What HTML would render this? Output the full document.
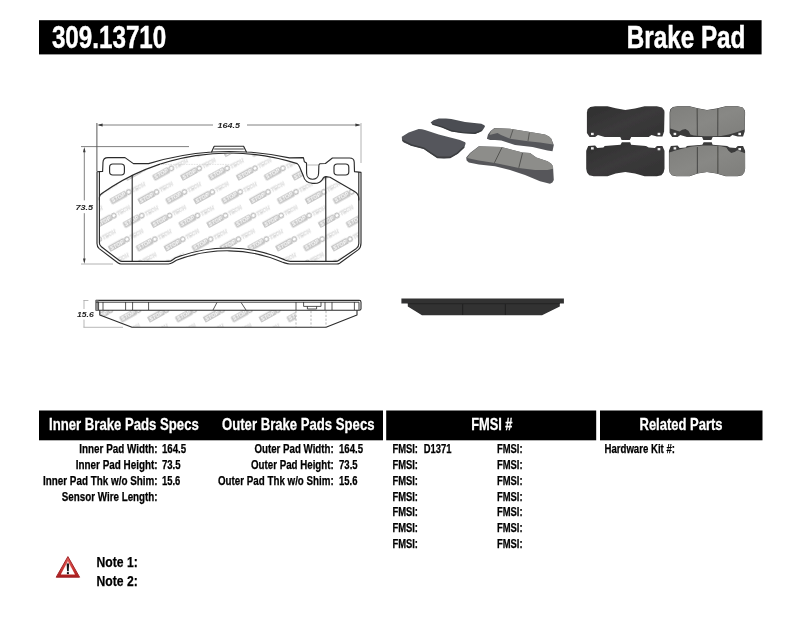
<!DOCTYPE html>
<html lang="en">
<head>
<meta charset="utf-8">
<title>309.13710 Brake Pad</title>
<style>
html,body{margin:0;padding:0;background:#fff;}
body{width:800px;height:619px;overflow:hidden;}
svg{display:block;font-family:"Liberation Sans",sans-serif;will-change:transform;}
</style>
</head>
<body>
<svg width="800" height="619" viewBox="0 0 800 619">
<rect width="800" height="619" fill="#fff"/>
<defs>
<pattern id="wm" width="48.8" height="27" patternUnits="userSpaceOnUse" patternTransform="translate(192.6 198.4) rotate(-29)">
<g id="lg" font-size="5.7" font-weight="bold" font-style="italic">
<rect x="0" y="0.7" width="17.6" height="6.3" rx="0.8" fill="#c6c6c6"/>
<text x="1.3" y="5.9" fill="#fff" textLength="15" lengthAdjust="spacingAndGlyphs">STOP</text>
<circle cx="20.4" cy="3.9" r="2.3" fill="none" stroke="#bdbdbd" stroke-width="1.2"/>
<text x="23.8" y="6" font-size="6.2" fill="#f3f3f3" stroke="#d2d2d2" stroke-width="0.4" textLength="14.6" lengthAdjust="spacingAndGlyphs">TECH</text>
</g>
<use href="#lg" x="24.4" y="13.5"/>
<use href="#lg" x="-24.4" y="13.5"/>
<use href="#lg" x="24.4" y="-13.5"/>
</pattern>
<path id="innerp" d="M99.4 243 L99.4 197.6 Q99.4 195.2 101.4 193.8 A222 222 0 0 1 297.2 163.6 Q298.6 164.6 299.6 167 L303.4 176 C305.4 185.2 319.6 185.6 323 178.4 Q324 176.6 326 176.6 L330 177.2 L354.6 191.4 Q358.8 194 358.8 198.4 L358.8 243.4 Q358.8 246.6 356.4 248.4 L338.6 260.5 Q337.6 261.3 336 261.3 L290.4 261.3 Q288 261.3 285.4 260.2 L283.6 259.4 A142.5 142.5 0 0 0 175.6 257.8 L172.4 260 Q170.6 261.4 168.4 261.4 L122 261.4 Q120.4 261.4 119 260.3 L101.4 246.8 Q99.4 245.2 99.4 243 Z"/>
<clipPath id="padclip"><use href="#innerp"/></clipPath>
<path id="outerp" d="M97 171.8 L102.6 171.4 L103 162.2 Q103.2 157.6 108 157.6 L125 157.6 L133.4 163.6 L148.6 163.6 A280 280 0 0 1 211.6 152 L214.2 146.2 L243.6 146.2 L246.4 152 A280 280 0 0 1 289.5 157.9 L303.4 157.6 L304.4 161.8 L306.5 163 L306.6 173.2 C306.6 181.2 318.6 181.2 318.6 173.2 L318.9 164.8 L320 163.7 L325.4 163.5 L332.4 158 L349.6 158 Q354 158 354.2 162 L354.5 171.6 L361 172.4 L361 243 Q361 247.6 358.4 249.6 L339.6 263.2 Q338.4 264 336.6 264 L289.6 264 Q287.4 264 284.6 262.9 L282 262 A140 140 0 0 0 176.4 260.3 L172.8 262.6 Q170.6 264 168.4 264 L121 264 Q119.4 264 117.8 262.8 L99.2 248.6 Q97 246.8 97 243.6 Z"/>
</defs>
<g clip-path="url(#padclip)"><rect x="95" y="140" width="270" height="130" fill="url(#wm)"/></g>
<g fill="none" stroke="#2b2b2b" stroke-width="1.15" stroke-linejoin="round" stroke-linecap="round">
<use href="#outerp"/>
<!-- friction material -->
<use href="#innerp"/>
<path d="M132.2 175.2 L132.2 261.4"/>
<path d="M325.7 176.8 L325.9 261.3"/>
<path d="M99.4 171.8 L99.4 200 M358.8 172.2 L358.8 200"/>
<path d="M214.6 149 L243.4 149" stroke-width="0.9"/>
<path d="M211.6 152 A280 280 0 0 1 246.4 152"/>
<!-- ear holes -->
<rect x="109.6" y="164" width="14.8" height="11" rx="3.2"/>
<rect x="334" y="164" width="14.8" height="11" rx="3.2"/>
</g>
<path d="M306.8 165 L318.6 165" stroke="#9a9a9a" stroke-width="0.7" fill="none"/>
<path d="M160 164.4 H230" stroke="#cfcfcf" stroke-width="0.6" stroke-dasharray="1.6 1" fill="none"/>
<!-- side view -->
<defs><clipPath id="sideclip"><path d="M99.6 310 L99.6 315 L132 327 L296 327 L296 310 Z"/></clipPath></defs>
<g clip-path="url(#sideclip)"><rect x="95" y="305" width="270" height="25" fill="url(#wm)"/></g>
<g fill="none" stroke="#2b2b2b" stroke-width="1.1" stroke-linejoin="round">
<path d="M96 300.4 L359.3 300.4 Q361 300.4 361 302.2 L361 308.7 Q361 310.3 359.3 310.3 L96 310.3 Z"/>
<rect x="96" y="300.4" width="2.6" height="9.9" fill="#8a8a8a" stroke="none"/>
<path d="M96 302.2 L359 302.2 L359 309.9" stroke-width="0.9"/>
<path d="M99.8 310.3 L99.8 315 L132 327.3 L326 327.3 L357 315 L357 310.3"/>
<path d="M98.6 302 V310 M103 302 V310 M125.6 302 V310 M132.6 302 V310 M148.6 302 V310 M296 302 V310 M325 302 V310 M332 302 V310 M354.4 302 V310" stroke-width="0.8"/>
<path d="M213 310 L217 302.4 M246 310 L241 302.4" stroke-width="0.8"/>
<path d="M303.6 302 V306.4 H321 V302 M307.4 306.4 V309 H316.6 V306.4" stroke-width="0.8"/>
<path d="M296 311 V327 M311 311 V327 M326 311 V327" stroke-width="0.7" stroke-dasharray="2.2 1.6" stroke="#999"/>
</g>
<!-- dimensions -->
<g stroke="#555" stroke-width="0.75" fill="none">
<path d="M96.9 123 V171" stroke="#444" stroke-width="0.9"/>
<path d="M361 123 V163" stroke="#999"/>
<path d="M99 125 H213 M247 125 H359.4"/>
<path d="M81 146.6 H189"/>
<path d="M81 264 H113" stroke="#999"/>
<path d="M84.3 149 V200.4 M84.3 213.2 V261.6"/>
<path d="M83.4 300.5 H88.4 M84 300.5 V309 M84 319.6 V327.3" stroke="#9a9a9a" stroke-width="0.7"/>
<path d="M83.4 327.3 H123" stroke="#9a9a9a" stroke-width="0.7"/>
</g>
<g fill="#3a3a3a" stroke="none">
<path d="M97.2 125 L102.6 123.6 L102.6 126.4 Z"/>
<path d="M360.8 125 L355.4 123.6 L355.4 126.4 Z"/>
<path d="M84.3 147 L83 152.2 L85.6 152.2 Z"/>
<path d="M84.3 263.8 L83 258.6 L85.6 258.6 Z"/>
</g>
<g font-size="8" font-weight="bold" font-style="italic" fill="#262626">
<text x="217.6" y="127.5" textLength="22.4" lengthAdjust="spacingAndGlyphs">164.5</text>
<text x="75.4" y="209.9" textLength="17.8" lengthAdjust="spacingAndGlyphs">73.5</text>
<text x="77" y="317.4" textLength="16.8" lengthAdjust="spacingAndGlyphs">15.6</text>
</g>

<defs>
<filter id="b1" x="-5%" y="-5%" width="110%" height="110%"><feGaussianBlur stdDeviation="0.45"/></filter>
<filter id="b2" x="-5%" y="-10%" width="110%" height="120%"><feGaussianBlur stdDeviation="0.6"/></filter>
<linearGradient id="gd" x1="0" y1="0" x2="1" y2="1"><stop offset="0" stop-color="#2f2f2f"/><stop offset="0.5" stop-color="#3b3a3b"/><stop offset="1" stop-color="#323232"/></linearGradient>
<linearGradient id="gg" x1="0" y1="0" x2="1" y2="1"><stop offset="0" stop-color="#7f7f7c"/><stop offset="0.5" stop-color="#888885"/><stop offset="1" stop-color="#7e7e7b"/></linearGradient>
</defs>
<g filter="url(#b1)">
<polygon points="586.9,112.4 587.6,109.2 590.3,107.0 595.1,106.2 607.5,106.2 615.7,108.2 625.3,110.0 635.0,108.6 644.6,106.2 656.9,106.2 662.0,107.4 664.3,110.4 664.5,112.4 664.1,131.6 662.4,136.4 656.9,136.6 651.4,135.0 648.7,137.1 631.2,137.1 629.8,139.9 621.6,139.9 620.3,137.1 604.7,137.1 597.9,135.0 595.1,137.1 589.6,137.1 586.9,133.0" fill="url(#gd)"/>
<polygon points="586.2,150.8 588.2,146.0 595.1,145.6 597.2,148.1 603.4,147.4 604.7,146.0 620.5,144.7 621.9,142.3 630.2,142.3 631.1,144.7 646.0,146.0 648.7,147.4 654.9,148.1 656.9,146.0 662.4,146.0 664.5,150.8 664.5,168.7 663.6,172.4 661.4,175.2 656.9,176.3 644.6,176.3 635.0,173.5 625.3,172.1 615.7,173.5 607.5,176.3 593.7,176.3 589.2,175.2 587.0,172.4 586.2,168.7" fill="url(#gd)"/>
<rect x="591" y="132.8" width="2.7" height="2.3" fill="#efefef"/>
<rect x="657.6" y="132.8" width="2.7" height="2.3" fill="#efefef"/>
<rect x="591" y="147.2" width="2.7" height="2.3" fill="#efefef"/>
<rect x="657.6" y="148.0" width="2.7" height="2.3" fill="#efefef"/>
<g transform="translate(669.6 0) scale(0.973 1) translate(-669.1 0)">
<polygon points="669.1,112.4 669.8,109.2 672.5,107.0 677.3,106.2 689.7,106.2 697.9,108.2 707.5,110.0 717.2,108.6 726.8,106.2 739.1,106.2 744.2,107.4 746.5,110.4 746.7,112.4 746.3,131.6 744.6,136.4 739.1,136.6 733.6,135.0 730.9,137.1 713.4,137.1 712.0,139.9 703.8,139.9 702.5,137.1 686.9,137.1 680.1,135.0 677.3,137.1 671.8,137.1 669.1,133.0" fill="#3a3a3a"/>
<polygon points="668.4,150.8 670.4,146.0 677.3,145.6 679.4,148.1 685.6,147.4 686.9,146.0 702.7,144.7 704.1,142.3 712.4,142.3 713.3,144.7 728.2,146.0 730.9,147.4 737.1,148.1 739.1,146.0 744.6,146.0 746.7,150.8 746.7,168.7 745.8,172.4 743.6,175.2 739.1,176.3 726.8,176.3 717.2,173.5 707.5,172.1 697.9,173.5 689.7,176.3 675.9,176.3 671.4,175.2 669.2,172.4 668.4,168.7" fill="#3a3a3a"/>
<polygon points="669.6,112.4 670.4,109.2 673.0,107.2 677.5,106.5 689.5,106.5 697.9,108.5 707.5,110.3 717.2,108.9 726.8,106.5 739.0,106.5 744.0,107.6 746.2,110.4 746.4,112.4 746.2,129.5 738.0,132.2 730.0,134.6 722.0,135.9 712.0,136.2 705.0,136.2 694.0,135.6 690.5,134.4 688.6,131.0 685.5,128.9 682.0,129.8 679.4,131.6 676.0,130.4 669.8,128.6" fill="url(#gg)"/>
<polygon points="668.8,152.6 675.0,150.6 684.0,148.2 692.0,146.6 703.0,145.6 712.0,145.6 722.0,146.2 727.5,147.6 729.4,150.6 732.4,152.9 736.0,152.0 738.6,150.2 742.0,151.4 746.6,153.2 746.7,168.7 745.8,172.4 743.6,175.0 739.1,176.0 726.8,176.0 717.2,173.3 707.5,171.9 697.9,173.3 689.7,176.0 675.9,176.0 671.4,175.0 669.2,172.4 668.6,168.7" fill="url(#gg)"/>
<path d="M697.4 108.6 L697.6 135.8 M718.7 108.8 L718.6 135.9 M697.6 147 L697.6 173.2 M718.7 146.2 L718.7 173.4" stroke="#3e3e3c" stroke-width="0.9" fill="none"/>
<rect x="673.2" y="132.8" width="2.7" height="2.3" fill="#efefef"/>
<rect x="739.8000000000001" y="132.8" width="2.7" height="2.3" fill="#efefef"/>
<rect x="673.2" y="147.2" width="2.7" height="2.3" fill="#efefef"/>
<rect x="739.8000000000001" y="148.0" width="2.7" height="2.3" fill="#efefef"/>
</g>
</g>
<g filter="url(#b2)">
<polygon points="430.6,122.6 433.5,120.2 438.8,118.4 446.0,118.5 451.3,119.0 465.0,121.9 481.3,123.8 484.4,125.2 485.0,126.6 482.5,130.6 479.0,132.6 475.0,133.8 462.5,133.1 451.3,131.2 442.5,127.5 437.0,125.6 432.5,124.5" fill="#4b4e52"/>
<path d="M432.4 124.2 L442.5 127.2 L451.3 130.8 L462.5 132.6 L475 133.2 L481.8 130.4" stroke="#393b3e" stroke-width="1.4" fill="none"/>
<polygon points="401.8,136.8 408.7,132.5 418.7,129.0 422.0,129.2 425.0,130.0 438.7,134.4 460.0,140.0 465.2,142.2 465.6,143.6 464.4,147.5 457.5,153.8 450.0,158.0 444.0,158.6 437.5,158.0 431.0,153.8 423.7,148.8 411.2,145.6 403.7,142.5 402.0,140.0" fill="#54575b"/>
<path d="M402.4 140.4 L411.2 145 L423.7 148.2 L431 153.2 L437.5 157.4 L450 157.4 L457.5 153.2 L464 147" stroke="#3c3e41" stroke-width="1.6" fill="none"/>
<polygon points="486.9,138.8 488.0,134.4 490.6,131.0 494.4,128.0 510.0,128.8 530.0,131.9 545.0,134.4 549.0,136.6 551.3,138.8 553.8,145.0 552.5,151.2 547.5,150.6 540.0,148.8 532.5,146.9 515.0,145.0 501.3,140.6 495.0,140.0 490.0,140.0" fill="#55565a"/>
<polygon points="489.4,135.0 491.0,131.2 494.6,128.2 510.0,128.8 530.0,131.9 545.0,134.4 549.0,136.6 551.3,138.8 553.0,144.4 540.0,142.5 528.0,141.2 510.0,138.8 501.0,135.0 497.5,133.0" fill="#8e8e8b"/>
<path d="M513 129.6 L510 138.6 M529.4 132.6 L528 141" stroke="#525250" stroke-width="0.9" fill="none"/>
<polygon points="466.2,157.5 470.0,153.0 478.8,146.2 501.3,146.9 522.5,152.5 530.0,153.0 536.3,157.5 547.5,161.2 551.0,163.6 553.0,166.2 553.8,180.0 552.4,182.4 550.0,183.8 540.0,181.2 525.0,175.0 510.0,170.0 495.0,166.2 478.8,164.4 468.8,162.5 466.6,160.4" fill="#56575a"/>
<polygon points="467.0,158.0 470.4,153.2 479.0,146.6 501.3,146.9 522.5,152.5 530.0,153.0 536.3,157.5 547.5,161.2 551.0,163.6 553.0,166.2 553.0,168.8 547.5,170.0 535.0,170.0 518.8,168.0 495.0,163.0 478.8,160.6" fill="#8d8d8a"/>
<path d="M501.9 147.6 L494.4 162.8 M522.5 153 L518.8 167.8" stroke="#4c4c4a" stroke-width="0.9" fill="none"/>
</g>
<g filter="url(#b1)">
<path d="M401.4 298.4 L563.9 298.4 L563.9 303.4 L559.8 303.6 L559.8 306.4 L542 315.3 L422 315.3 L407.8 306.4 L407.8 303.6 L401.4 303.4 Z" fill="#303031"/>
<path d="M407.8 303.6 L559.8 303.6" stroke="#222" stroke-width="0.7"/>
<path d="M462.6 304 V315 M505.4 304 V315" stroke="#1c1c1c" stroke-width="0.7"/>
</g>
<rect x="39" y="20.2" width="722.6" height="34.2" fill="#000"/>
<text x="51.9" y="48.0" font-size="32.2" font-weight="bold" font-style="normal" text-anchor="start" fill="#fff" textLength="114.4" lengthAdjust="spacingAndGlyphs" stroke="#fff" stroke-width="0.5">309.13710</text>
<text x="626.8" y="48.4" font-size="32.2" font-weight="bold" font-style="normal" text-anchor="start" fill="#fff" textLength="118.6" lengthAdjust="spacingAndGlyphs" stroke="#fff" stroke-width="0.5">Brake Pad</text>
<rect x="39" y="410.5" width="344" height="29.8" fill="#000"/>
<rect x="386.2" y="410.5" width="210" height="29.8" fill="#000"/>
<rect x="600" y="410.5" width="162.5" height="29.8" fill="#000"/>
<text x="49" y="430.2" font-size="16.5" font-weight="bold" font-style="normal" text-anchor="start" fill="#fff" textLength="149.8" lengthAdjust="spacingAndGlyphs" stroke="#fff" stroke-width="0.3">Inner Brake Pads Specs</text>
<text x="222" y="430.2" font-size="16.5" font-weight="bold" font-style="normal" text-anchor="start" fill="#fff" textLength="152.5" lengthAdjust="spacingAndGlyphs" stroke="#fff" stroke-width="0.3">Outer Brake Pads Specs</text>
<text x="471.2" y="430.2" font-size="16.5" font-weight="bold" font-style="normal" text-anchor="start" fill="#fff" textLength="41.3" lengthAdjust="spacingAndGlyphs" stroke="#fff" stroke-width="0.3">FMSI #</text>
<text x="639.5" y="430.2" font-size="16.5" font-weight="bold" font-style="normal" text-anchor="start" fill="#fff" textLength="83" lengthAdjust="spacingAndGlyphs" stroke="#fff" stroke-width="0.3">Related Parts</text>
<text x="79.3" y="453.3" font-size="12.3" font-weight="bold" font-style="normal" text-anchor="start" fill="#000" textLength="78.3" lengthAdjust="spacingAndGlyphs" stroke="#000" stroke-width="0.25">Inner Pad Width:</text>
<text x="75.8" y="469.08" font-size="12.3" font-weight="bold" font-style="normal" text-anchor="start" fill="#000" textLength="81.8" lengthAdjust="spacingAndGlyphs" stroke="#000" stroke-width="0.25">Inner Pad Height:</text>
<text x="43.0" y="484.86" font-size="12.3" font-weight="bold" font-style="normal" text-anchor="start" fill="#000" textLength="114.6" lengthAdjust="spacingAndGlyphs" stroke="#000" stroke-width="0.25">Inner Pad Thk w/o Shim:</text>
<text x="61.8" y="500.64" font-size="12.3" font-weight="bold" font-style="normal" text-anchor="start" fill="#000" textLength="95.8" lengthAdjust="spacingAndGlyphs" stroke="#000" stroke-width="0.25">Sensor Wire Length:</text>
<text x="161.9" y="453.3" font-size="12.3" font-weight="bold" font-style="normal" text-anchor="start" fill="#000" textLength="24.3" lengthAdjust="spacingAndGlyphs" stroke="#000" stroke-width="0.25">164.5</text>
<text x="161.9" y="469.08" font-size="12.3" font-weight="bold" font-style="normal" text-anchor="start" fill="#000" textLength="18.7" lengthAdjust="spacingAndGlyphs" stroke="#000" stroke-width="0.25">73.5</text>
<text x="161.9" y="484.86" font-size="12.3" font-weight="bold" font-style="normal" text-anchor="start" fill="#000" textLength="18.4" lengthAdjust="spacingAndGlyphs" stroke="#000" stroke-width="0.25">15.6</text>
<text x="254.4" y="453.3" font-size="12.3" font-weight="bold" font-style="normal" text-anchor="start" fill="#000" textLength="79.3" lengthAdjust="spacingAndGlyphs" stroke="#000" stroke-width="0.25">Outer Pad Width:</text>
<text x="251.0" y="469.08" font-size="12.3" font-weight="bold" font-style="normal" text-anchor="start" fill="#000" textLength="82.7" lengthAdjust="spacingAndGlyphs" stroke="#000" stroke-width="0.25">Outer Pad Height:</text>
<text x="218.0" y="484.86" font-size="12.3" font-weight="bold" font-style="normal" text-anchor="start" fill="#000" textLength="115.7" lengthAdjust="spacingAndGlyphs" stroke="#000" stroke-width="0.25">Outer Pad Thk w/o Shim:</text>
<text x="339.0" y="453.3" font-size="12.3" font-weight="bold" font-style="normal" text-anchor="start" fill="#000" textLength="24.1" lengthAdjust="spacingAndGlyphs" stroke="#000" stroke-width="0.25">164.5</text>
<text x="339.0" y="469.08" font-size="12.3" font-weight="bold" font-style="normal" text-anchor="start" fill="#000" textLength="18.6" lengthAdjust="spacingAndGlyphs" stroke="#000" stroke-width="0.25">73.5</text>
<text x="339.0" y="484.86" font-size="12.3" font-weight="bold" font-style="normal" text-anchor="start" fill="#000" textLength="18.5" lengthAdjust="spacingAndGlyphs" stroke="#000" stroke-width="0.25">15.6</text>
<text x="392.4" y="453.3" font-size="12.3" font-weight="bold" font-style="normal" text-anchor="start" fill="#000" textLength="25.6" lengthAdjust="spacingAndGlyphs" stroke="#000" stroke-width="0.25">FMSI:</text>
<text x="497.0" y="453.3" font-size="12.3" font-weight="bold" font-style="normal" text-anchor="start" fill="#000" textLength="25.6" lengthAdjust="spacingAndGlyphs" stroke="#000" stroke-width="0.25">FMSI:</text>
<text x="392.4" y="469.08" font-size="12.3" font-weight="bold" font-style="normal" text-anchor="start" fill="#000" textLength="25.6" lengthAdjust="spacingAndGlyphs" stroke="#000" stroke-width="0.25">FMSI:</text>
<text x="497.0" y="469.08" font-size="12.3" font-weight="bold" font-style="normal" text-anchor="start" fill="#000" textLength="25.6" lengthAdjust="spacingAndGlyphs" stroke="#000" stroke-width="0.25">FMSI:</text>
<text x="392.4" y="484.86" font-size="12.3" font-weight="bold" font-style="normal" text-anchor="start" fill="#000" textLength="25.6" lengthAdjust="spacingAndGlyphs" stroke="#000" stroke-width="0.25">FMSI:</text>
<text x="497.0" y="484.86" font-size="12.3" font-weight="bold" font-style="normal" text-anchor="start" fill="#000" textLength="25.6" lengthAdjust="spacingAndGlyphs" stroke="#000" stroke-width="0.25">FMSI:</text>
<text x="392.4" y="500.64" font-size="12.3" font-weight="bold" font-style="normal" text-anchor="start" fill="#000" textLength="25.6" lengthAdjust="spacingAndGlyphs" stroke="#000" stroke-width="0.25">FMSI:</text>
<text x="497.0" y="500.64" font-size="12.3" font-weight="bold" font-style="normal" text-anchor="start" fill="#000" textLength="25.6" lengthAdjust="spacingAndGlyphs" stroke="#000" stroke-width="0.25">FMSI:</text>
<text x="392.4" y="516.42" font-size="12.3" font-weight="bold" font-style="normal" text-anchor="start" fill="#000" textLength="25.6" lengthAdjust="spacingAndGlyphs" stroke="#000" stroke-width="0.25">FMSI:</text>
<text x="497.0" y="516.42" font-size="12.3" font-weight="bold" font-style="normal" text-anchor="start" fill="#000" textLength="25.6" lengthAdjust="spacingAndGlyphs" stroke="#000" stroke-width="0.25">FMSI:</text>
<text x="392.4" y="532.2" font-size="12.3" font-weight="bold" font-style="normal" text-anchor="start" fill="#000" textLength="25.6" lengthAdjust="spacingAndGlyphs" stroke="#000" stroke-width="0.25">FMSI:</text>
<text x="497.0" y="532.2" font-size="12.3" font-weight="bold" font-style="normal" text-anchor="start" fill="#000" textLength="25.6" lengthAdjust="spacingAndGlyphs" stroke="#000" stroke-width="0.25">FMSI:</text>
<text x="392.4" y="547.98" font-size="12.3" font-weight="bold" font-style="normal" text-anchor="start" fill="#000" textLength="25.6" lengthAdjust="spacingAndGlyphs" stroke="#000" stroke-width="0.25">FMSI:</text>
<text x="497.0" y="547.98" font-size="12.3" font-weight="bold" font-style="normal" text-anchor="start" fill="#000" textLength="25.6" lengthAdjust="spacingAndGlyphs" stroke="#000" stroke-width="0.25">FMSI:</text>
<text x="423.7" y="453.3" font-size="12.3" font-weight="bold" font-style="normal" text-anchor="start" fill="#000" textLength="27.8" lengthAdjust="spacingAndGlyphs" stroke="#000" stroke-width="0.25">D1371</text>
<text x="604.5" y="453.3" font-size="12.3" font-weight="bold" font-style="normal" text-anchor="start" fill="#000" textLength="70.5" lengthAdjust="spacingAndGlyphs" stroke="#000" stroke-width="0.25">Hardware Kit #:</text>
<text x="96.5" y="566.8" font-size="15.4" font-weight="bold" font-style="normal" text-anchor="start" fill="#000" textLength="41.2" lengthAdjust="spacingAndGlyphs" stroke="#000" stroke-width="0.25">Note 1:</text>
<text x="96.5" y="585.6" font-size="15.4" font-weight="bold" font-style="normal" text-anchor="start" fill="#000" textLength="41.2" lengthAdjust="spacingAndGlyphs" stroke="#000" stroke-width="0.25">Note 2:</text>
<defs>
<linearGradient id="wg" x1="0" y1="0" x2="0" y2="1"><stop offset="0" stop-color="#e0605c"/><stop offset="0.55" stop-color="#cf3a36"/><stop offset="1" stop-color="#a81c1c"/></linearGradient>
<linearGradient id="wi" x1="0" y1="0" x2="0" y2="1"><stop offset="0" stop-color="#f6c4c0"/><stop offset="0.6" stop-color="#ffffff"/></linearGradient>
</defs>
<g>
<path d="M67.9 556.6 L79.6 577.2 L56.2 577.2 Z" fill="url(#wg)" stroke="#a3262a" stroke-width="1" stroke-linejoin="round"/>
<path d="M67.9 561 L75 574.6 L60.8 574.6 Z" fill="url(#wi)"/>
<path d="M66.7 563.4 h2.4 l-0.35 7.8 h-1.7 Z" fill="#15161a"/>
<rect x="66.9" y="572.1" width="2" height="2" fill="#15161a"/>
</g>
</svg>
</body>
</html>
